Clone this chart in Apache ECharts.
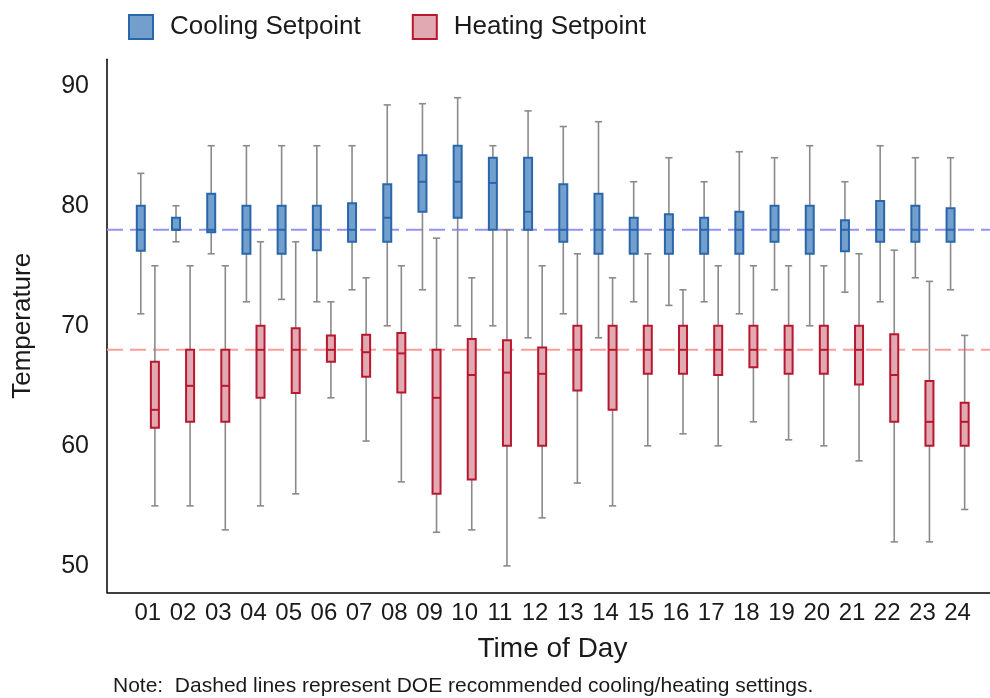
<!DOCTYPE html>
<html><head><meta charset="utf-8">
<script src="https://cdn.jsdelivr.net/npm/echarts@6/dist/echarts.min.js"></script>
<style>html,body{margin:0;padding:0;background:#fff}#c{width:990px;height:698px}</style>
</head><body><div id="c"></div>
<script>
// ---- data ----
const hours = ['01','02','03','04','05','06','07','08','09','10','11','12','13','14','15','16','17','18','19','20','21','22','23','24'];
const coolMin = [71,77,76,72,72.2,72,73,70,73,70,70,69,71,69,72,71.7,72,71,73,70,72.8,72,74,73];
const coolQ1  = [76.25,78,77.8,76,76,76.3,77,77,79.5,79,78,78,77,76,76,76,76,76,77,76,76.2,77,77,77];
const coolMed = [78,78,78,78,78,78,78,79,82,82,81.9,79.5,78,78,78,78,78,78,78,78,78,78,78,78];
const coolQ3  = [80,79,81,80,80,80,80.2,81.8,84.2,85,84,84,81.8,81,79,79.3,79,79.5,80,80,78.8,80.4,80,79.8];
const coolMax = [82.7,80,85,85,85,85,85,88.4,88.5,89,85,87.9,86.6,87,82,84,82,84.5,84,85,82,85,84,84];

const heatMin = [55,55,53,55,56,64,60.4,57,52.8,53,50,54,56.9,55,60,61,60,62,60.5,60,58.75,52,52,54.7];
const heatQ1  = [61.5,62,62,64,64.4,67,65.75,64.45,56,57.2,60,60,64.6,63,66,66,65.9,66.55,66,66,65.1,62,60,60];
const heatMed = [63,65,65,68,68,68,67.8,67.7,64,65.9,66.1,66,68,68,68,68,68,68,68,68,68,65.9,62,62];
const heatQ3  = [67,68,68,70,69.8,69.2,69.25,69.4,68,68.9,68.8,68.2,70,70,70,70,70,70,70,70,70,69.3,65.4,63.6];
const heatMax = [75,75,75,77,77,72,74,75,77.3,74,78,75,76,74,76,73,75,75,75,75,76,76.3,73.7,69.2];

const doeCooling = 78;
const doeHeating = 68;
const yTicks = [50, 60, 70, 80, 90];
const seriesNames = ['Cooling Setpoint', 'Heating Setpoint'];
const noteText = 'Note:  Dashed lines represent DOE recommended cooling/heating settings.';

// ---- build ----
const X_MIN = -0.16, X_MAX = 24.92;
function rows(mn, q1, md, q3, mx) {
  return hours.map((h, i) => [i + 1, mn[i], q1[i], md[i], q3[i], mx[i]]);
}
const coolData = rows(coolMin, coolQ1, coolMed, coolQ3, coolMax);
const heatData = rows(heatMin, heatQ1, heatMed, heatQ3, heatMax);

const BLUE_FILL = '#739fcd', BLUE_EDGE = '#2a66ab';
const RED_FILL = '#e1a9b2', RED_EDGE = '#b8182f';
const WHISK = '#8a8a8a';

function makeRender(side, fill, edge) {
  return function (params, api) {
    const x = api.value(0);
    const bw = api.size([1, 0])[0];
    const off = side * bw * 0.2;
    const pMin = api.coord([x, api.value(1)]);
    const pQ1 = api.coord([x, api.value(2)]);
    const pMed = api.coord([x, api.value(3)]);
    const pQ3 = api.coord([x, api.value(4)]);
    const pMax = api.coord([x, api.value(5)]);
    const cx = pMin[0] + off;
    const hb = 4, hc = 3.6;
    const wStyle = { stroke: WHISK, lineWidth: 1.6 };
    return {
      type: 'group',
      children: [
        { type: 'line', shape: { x1: cx, y1: pMax[1], x2: cx, y2: pMin[1] }, style: wStyle },
        { type: 'line', shape: { x1: cx - hc, y1: pMax[1], x2: cx + hc, y2: pMax[1] }, style: wStyle },
        { type: 'line', shape: { x1: cx - hc, y1: pMin[1], x2: cx + hc, y2: pMin[1] }, style: wStyle },
        { type: 'rect', shape: { x: cx - hb, y: pQ3[1], width: hb * 2, height: pQ1[1] - pQ3[1] },
          style: { fill: fill, stroke: edge, lineWidth: 2 } },
        { type: 'line', shape: { x1: cx - hb, y1: pMed[1], x2: cx + hb, y2: pMed[1] },
          style: { stroke: edge, lineWidth: 2 } }
      ]
    };
  };
}

const FONT = 'Liberation Sans, Arial, sans-serif';
const TXT = '#1a1a1a';

const chart = echarts.init(document.getElementById('c'), null, { renderer: 'canvas' });
chart.setOption({
  animation: false,
  backgroundColor: '#ffffff',
  textStyle: { fontFamily: FONT },
  legend: {
    left: 128, top: 14, padding: 0,
    itemWidth: 24, itemHeight: 24, itemGap: 51,
    icon: 'rect',
    textStyle: { fontSize: 26, color: TXT, fontFamily: FONT, padding: [0, 0, 0, 12] },
    data: [
      { name: seriesNames[0], itemStyle: { color: BLUE_FILL, borderColor: BLUE_EDGE, borderWidth: 2 } },
      { name: seriesNames[1], itemStyle: { color: RED_FILL, borderColor: RED_EDGE, borderWidth: 2 } }
    ],
    selectedMode: false
  },
  grid: { left: 107, right: 0, top: 59.3, bottom: 105.7, containLabel: false },
  xAxis: {
    type: 'value', min: X_MIN, max: X_MAX,
    name: 'Time of Day', nameLocation: 'middle', nameGap: 43,
    nameTextStyle: { fontSize: 28, color: TXT, fontFamily: FONT, padding: [0, 0, 0, 8] },
    axisLine: { show: true, onZero: false, lineStyle: { color: '#000', width: 1.5 } },
    axisTick: { show: false },
    splitLine: { show: false },
    axisLabel: {
      customValues: hours.map((h, i) => i + 1),
      formatter: v => hours[Math.round(v) - 1],
      fontSize: 24, color: TXT, margin: 9, fontFamily: FONT
    }
  },
  yAxis: {
    type: 'value', min: 47.8, max: 92.2,
    name: 'Temperature', nameLocation: 'middle', nameGap: 71,
    nameTextStyle: { fontSize: 26, color: TXT, fontFamily: FONT },
    axisLine: { show: true, onZero: false, lineStyle: { color: '#000', width: 1.5 } },
    axisTick: { show: false },
    splitLine: { show: false },
    axisLabel: { customValues: yTicks, fontSize: 25, color: TXT, margin: 18, fontFamily: FONT }
  },
  series: [
    { type: 'line', silent: true, symbol: 'none', z: 1,
      data: [[X_MIN, doeCooling], [X_MAX, doeCooling]],
      lineStyle: { color: '#9393ff', width: 2, type: [16, 7] } },
    { type: 'line', silent: true, symbol: 'none', z: 1,
      data: [[X_MIN, doeHeating], [X_MAX, doeHeating]],
      lineStyle: { color: '#ff9d9d', width: 2, type: [16, 7] } },
    { name: seriesNames[0], type: 'custom', z: 3, data: coolData,
      itemStyle: { color: BLUE_FILL, borderColor: BLUE_EDGE },
      encode: { x: 0, y: [1, 2, 3, 4, 5] },
      renderItem: makeRender(-1, BLUE_FILL, BLUE_EDGE) },
    { name: seriesNames[1], type: 'custom', z: 3, data: heatData,
      itemStyle: { color: RED_FILL, borderColor: RED_EDGE },
      encode: { x: 0, y: [1, 2, 3, 4, 5] },
      renderItem: makeRender(1, RED_FILL, RED_EDGE) }
  ],
  graphic: [
    { type: 'text', left: 113, top: 676,
      style: { text: noteText, fontSize: 21, fill: TXT, fontFamily: FONT } }
  ]
});
</script></body></html>
